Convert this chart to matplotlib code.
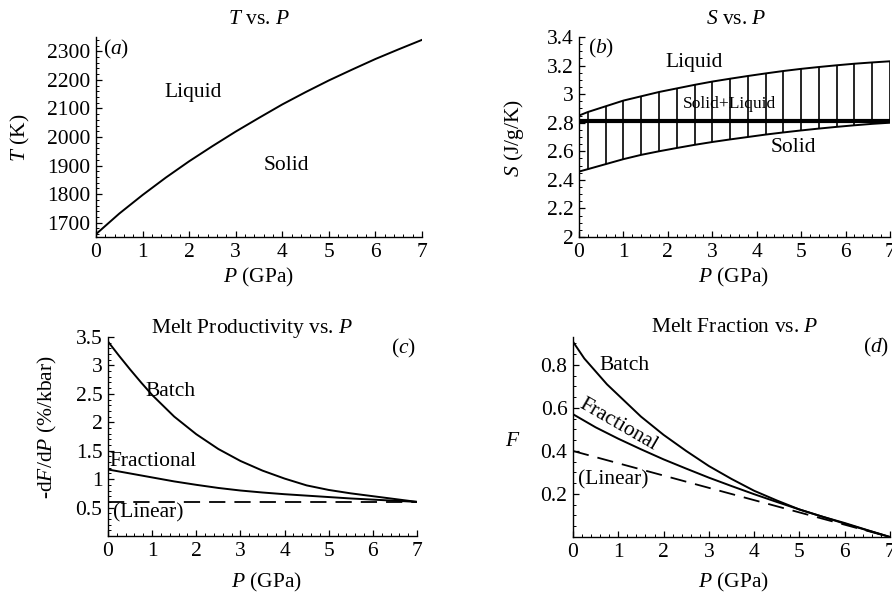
import matplotlib
matplotlib.use("Agg")
import matplotlib.pyplot as plt
from matplotlib.ticker import MultipleLocator, FuncFormatter, AutoMinorLocator

plt.rcParams['font.family'] = ['Liberation Serif', 'DejaVu Serif']
plt.rcParams['mathtext.fontset'] = 'custom'
plt.rcParams['mathtext.rm'] = 'Liberation Serif'
plt.rcParams['mathtext.it'] = 'Liberation Serif:italic'
plt.rcParams['mathtext.bf'] = 'Liberation Serif:bold'

# ---------------- data ----------------
# (a) solidus T vs P
P_a = [0, 0.5, 1, 1.5, 2, 2.5, 3, 3.5, 4, 4.5, 5, 5.5, 6, 6.5, 7]
T_a = [1660, 1732, 1797, 1858, 1915, 1968, 2019, 2067, 2114, 2157, 2198, 2236, 2273, 2307, 2340]

# (b) entropy vs P
P_b = [0, 0.2, 0.6, 1.0, 1.4, 1.8, 2.2, 2.6, 3.0, 3.4, 3.8, 4.2, 4.6, 5.0, 5.4, 5.8, 6.2, 6.6, 7.0]
S_liquid = [2.85, 2.875, 2.915, 2.955, 2.985, 3.015, 3.04, 3.065, 3.088, 3.108, 3.127,
            3.145, 3.162, 3.177, 3.19, 3.202, 3.213, 3.222, 3.23]
S_solid = [2.458, 2.475, 2.51, 2.545, 2.575, 2.60, 2.623, 2.645, 2.665, 2.683, 2.70,
           2.717, 2.732, 2.746, 2.759, 2.771, 2.782, 2.792, 2.80]
S_path_P = [0, 7]
S_path = [2.81, 2.81]

# (c) melt productivity
P_c_batch = [0, 0.25, 0.5, 0.75, 1, 1.5, 2, 2.5, 3, 3.5, 4, 4.5, 5, 5.5, 6, 6.5, 7]
dFdP_batch = [3.42, 3.17, 2.93, 2.70, 2.48, 2.10, 1.79, 1.53, 1.32, 1.15, 1.01, 0.89,
              0.81, 0.75, 0.70, 0.65, 0.60]
P_c_frac = [0, 0.5, 1, 1.5, 2, 2.5, 3, 3.5, 4, 4.5, 5, 5.5, 6, 6.5, 7]
dFdP_frac = [1.17, 1.10, 1.03, 0.96, 0.90, 0.845, 0.80, 0.765, 0.735, 0.71, 0.685,
             0.66, 0.64, 0.62, 0.60]
P_c_lin = [0, 7]
dFdP_lin = [0.60, 0.60]

# (d) melt fraction
P_d_batch = [0, 0.25, 0.5, 0.75, 1, 1.5, 2, 2.5, 3, 3.5, 4, 4.5, 5, 5.5, 6, 6.5, 7]
F_batch = [0.908, 0.83, 0.77, 0.71, 0.66, 0.56, 0.475, 0.40, 0.33, 0.27, 0.215, 0.17,
           0.128, 0.095, 0.065, 0.032, 0.0]
P_d_frac = [0, 0.5, 1, 1.5, 2, 2.5, 3, 3.5, 4, 4.5, 5, 5.5, 6, 6.5, 7]
F_frac = [0.571, 0.51, 0.457, 0.408, 0.361, 0.318, 0.276, 0.237, 0.199, 0.163, 0.128,
          0.095, 0.062, 0.031, 0.0]
P_d_lin = [0, 7]
F_lin = [0.4, 0.0]

x_ticks = [0, 1, 2, 3, 4, 5, 6, 7]

# ---------------- layout helpers ----------------
W, H = 892, 595
fig = plt.figure(figsize=(W / 100, H / 100), dpi=100)

def add_ax(l, r, t, b):
    return fig.add_axes([l / W, 1 - b / H, (r - l) / W, (b - t) / H])

def ftext(x, y, s, **kw):
    fig.text(x / W, 1 - y / H, s, ha='center', va='center', **kw)

FS = 15.5
LW = 1.4

def style(ax, xminor=5, yminor=5):
    for s in ['top', 'right']:
        ax.spines[s].set_visible(False)
    for s in ['left', 'bottom']:
        ax.spines[s].set_linewidth(1.0)
    ax.set_xlim(0, 7)
    ax.set_xticks(x_ticks)
    ax.xaxis.set_minor_locator(AutoMinorLocator(xminor))
    ax.yaxis.set_minor_locator(AutoMinorLocator(yminor))
    ax.tick_params(which='both', direction='in', labelsize=FS, pad=4)
    ax.tick_params(which='major', length=4, width=0.9)
    ax.tick_params(which='minor', length=2, width=0.7)
    ax.yaxis.set_major_formatter(FuncFormatter(lambda v, p: '%g' % round(v, 6)))
    ax.xaxis.set_major_formatter(FuncFormatter(lambda v, p: '%g' % round(v, 6)))
    ax.patch.set_alpha(0)

# ---------------- (a) ----------------
ax = add_ax(96, 422, 37, 237)
ax.plot(P_a, T_a, color='black', lw=LW)
ax.set_ylim(1650, 2350)
ax.set_yticks([1700, 1800, 1900, 2000, 2100, 2200, 2300])
style(ax)
ftext(259, 20, r'$T$ vs. $P$', fontsize=FS)
ftext(259, 277, r'$P$ (GPa)', fontsize=FS)
ftext(20, 138, r'$T$ (K)', fontsize=FS, rotation=90)
ftext(116, 49, r'($a$)', fontsize=FS)
ftext(193, 93, 'Liquid', fontsize=FS)
ftext(286, 165, 'Solid', fontsize=FS)

# ---------------- (b) ----------------
ax = add_ax(579, 890, 37, 237)
ax.plot(P_b, S_liquid, color='black', lw=LW)
ax.plot(P_b, S_solid, color='black', lw=LW)
ax.vlines(P_b[1:], S_solid[1:], S_liquid[1:], color='black', lw=1.2)
ax.plot(S_path_P, S_path, color='black', lw=3.0)
ax.set_ylim(2, 3.4)
ax.set_yticks([2, 2.2, 2.4, 2.6, 2.8, 3.0, 3.2, 3.4])
style(ax, yminor=4)
ftext(736, 20, r'$S$ vs. $P$', fontsize=FS)
ftext(734, 277, r'$P$ (GPa)', fontsize=FS)
ftext(514, 138, r'$S$ (J/g/K)', fontsize=FS, rotation=90)
ftext(601, 48, r'($b$)', fontsize=FS)
ftext(694, 63, 'Liquid', fontsize=FS)
ftext(729, 104, 'Solid+Liquid', fontsize=12.5)
ftext(793, 147, 'Solid', fontsize=FS)

# ---------------- (c) ----------------
ax = add_ax(108, 417, 337, 536)
ax.plot(P_c_batch, dFdP_batch, color='black', lw=LW)
ax.plot(P_c_frac, dFdP_frac, color='black', lw=LW)
ax.plot(P_c_lin, dFdP_lin, color='black', lw=1.3, linestyle=(0, (9, 5)))
ax.set_ylim(0, 3.5)
ax.set_yticks([0.5, 1, 1.5, 2, 2.5, 3, 3.5])
style(ax)
ftext(252, 328, r'Melt Productivity vs. $P$', fontsize=FS)
ftext(267, 582, r'$P$ (GPa)', fontsize=FS)
ftext(47, 427, r'-d$F$/d$P$ (%/kbar)', fontsize=FS, rotation=90)
ftext(403, 348, r'($c$)', fontsize=FS)
ftext(170, 392, 'Batch', fontsize=FS)
ftext(153, 461, 'Fractional', fontsize=FS)
ftext(148, 513, '(Linear)', fontsize=FS)

# ---------------- (d) ----------------
ax = add_ax(573, 890, 337, 537)
ax.plot(P_d_batch, F_batch, color='black', lw=LW)
ax.plot(P_d_frac, F_frac, color='black', lw=LW)
ax.plot(P_d_lin, F_lin, color='black', lw=1.3, linestyle=(0, (9, 5)))
ax.set_ylim(0, 0.93)
ax.set_yticks([0.2, 0.4, 0.6, 0.8])
style(ax, yminor=4)
ftext(735, 328, r'Melt Fraction vs. $P$', fontsize=FS)
ftext(734, 582, r'$P$ (GPa)', fontsize=FS)
ftext(513, 442, r'$F$', fontsize=FS)
ftext(876, 347, r'($d$)', fontsize=FS)
ftext(625, 365, 'Batch', fontsize=FS)
ftext(618, 425, 'Fractional', fontsize=FS, rotation=-30)
ftext(613, 480, '(Linear)', fontsize=FS)

fig.savefig('out.png', dpi=100)
